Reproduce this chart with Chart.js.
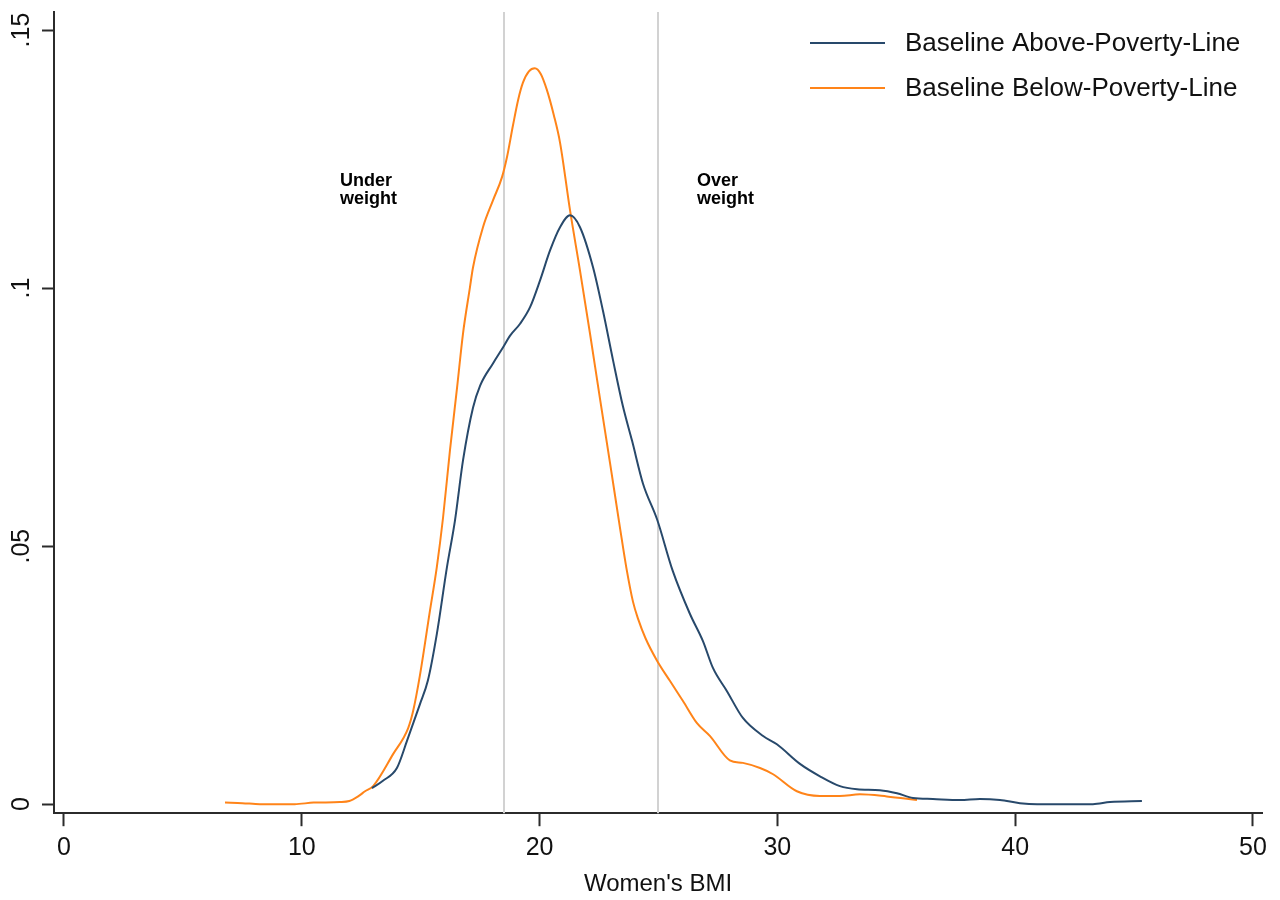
<!DOCTYPE html>
<html>
<head>
<meta charset="utf-8">
<title>Women's BMI density</title>
<script src="https://cdn.jsdelivr.net/npm/chart.js@4.4.0/dist/chart.umd.min.js"></script>
<style>
    html, body { margin: 0; padding: 0; background: #fff; }
    #wrap { width: 1280px; height: 900px; position: relative; }
</style>
</head>
<body>
<div id="wrap"><canvas id="bmiChart" width="1280" height="900"></canvas></div>
<script>
// ===== DATA =====
const xTicks = [0, 10, 20, 30, 40, 50];
const yTicks = [0, 0.05, 0.1, 0.15];
const yTickLabels = ["0", ".05", ".1", ".15"];
const cutoffs = [18.5, 25];

const seriesNames = ["Baseline Above-Poverty-Line", "Baseline Below-Poverty-Line"];

const aboveX = [12.95, 13.4, 14.0, 14.42, 14.97, 15.3, 15.68, 16.1, 16.44, 16.78, 17.2, 17.5,
    18.04, 18.46, 18.76, 19.18, 19.6, 20.02, 20.44, 20.86, 21.28, 21.7, 22.25, 22.67, 23.09,
    23.5, 23.89, 24.35, 24.94, 25.6, 26.32, 26.87, 27.29, 27.88, 28.55, 29.4, 29.98, 30.95,
    31.79, 32.63, 33.35, 34.31, 35.03, 35.7, 36.54, 37.68, 38.52, 39.36, 40.2, 40.92, 43.27,
    43.99, 45.33];
const aboveY = [0.0031, 0.0045, 0.007, 0.0122, 0.0194, 0.0239, 0.033, 0.0458, 0.0549, 0.0666,
    0.0768, 0.0811, 0.0854, 0.0885, 0.0908, 0.0931, 0.0963, 0.1015, 0.1073, 0.1118, 0.1141,
    0.1118, 0.104, 0.0955, 0.086, 0.0772, 0.0704, 0.0621, 0.0552, 0.0452, 0.0369, 0.0316,
    0.0264, 0.0219, 0.0167, 0.0132, 0.0116, 0.0078, 0.0054, 0.0035, 0.0029, 0.0027, 0.0021,
    0.0012, 0.001, 0.0008, 0.001, 0.0008, 0.0002, 0, 0, 0.0004, 0.0006];

const belowX = [6.77, 7.5, 8.24, 9.7, 10.5, 11.6, 12.0, 12.4, 12.66, 13.0, 13.84, 14.47, 14.68,
    14.97, 15.39, 15.68, 15.94, 16.23, 16.53, 16.78, 17.07, 17.2, 17.62, 18.04, 18.42, 18.63,
    18.88, 19.1, 19.3, 19.55, 19.8, 20.05, 20.3, 20.6, 20.86, 21.28, 21.7, 22.12, 22.54, 22.96,
    23.38, 23.65, 23.93, 24.15, 24.45, 24.94, 25.48, 26.03, 26.62, 27.17, 28.0, 28.55, 29.27,
    29.82, 30.82, 31.79, 32.63, 33.47, 34.6, 35.87];
const belowY = [0.0003, 0.0002, 0, 0, 0.0003, 0.0004, 0.0006, 0.0016, 0.0025, 0.0035, 0.0097,
    0.0147, 0.018, 0.025, 0.0375, 0.046, 0.0555, 0.0685, 0.0807, 0.0912, 0.1001, 0.104, 0.1118,
    0.117, 0.1215, 0.1254, 0.1315, 0.1365, 0.1398, 0.142, 0.1426, 0.1415, 0.1385, 0.1335, 0.1282,
    0.1151, 0.1034, 0.0912, 0.0786, 0.0662, 0.0536, 0.0458, 0.0392, 0.0358, 0.0322, 0.0278,
    0.0239, 0.02, 0.0157, 0.0132, 0.0085, 0.008, 0.007, 0.0058, 0.0025, 0.0016, 0.0016, 0.0019,
    0.0015, 0.0008];

const FONT = "'Liberation Sans', Arial, sans-serif";
const BLUE = "#28496b";
const ORANGE = "#ff8419";
const AXIS = "#2b2b2b";

// ===== PLUGINS =====
const cutoffLines = {
    id: "cutoffLines",
    beforeDatasetsDraw(chart) {
        const { ctx, chartArea, scales } = chart;
        ctx.save();
        ctx.strokeStyle = "#d2d2d2";
        ctx.lineWidth = 2;
        cutoffs.forEach((c) => {
            const px = Math.round(scales.x.getPixelForValue(c));
            ctx.beginPath();
            ctx.moveTo(px, chartArea.top);
            ctx.lineTo(px, chartArea.bottom);
            ctx.stroke();
        });
        ctx.restore();
    },
};

const extras = {
    id: "extras",
    afterDraw(chart) {
        const { ctx, scales } = chart;
        ctx.save();

        // rotated y tick labels
        ctx.fillStyle = "#111";
        ctx.font = "25px " + FONT;
        ctx.textAlign = "center";
        ctx.textBaseline = "middle";
        yTicks.forEach((v, i) => {
            const py = scales.y.getPixelForValue(v);
            ctx.save();
            ctx.translate(22, py);
            ctx.rotate(-Math.PI / 2);
            ctx.fillText(yTickLabels[i], 0, 0);
            ctx.restore();
        });

        // zone labels
        ctx.font = "bold 18px " + FONT;
        ctx.textAlign = "left";
        ctx.textBaseline = "alphabetic";
        ctx.fillStyle = "#000";
        ctx.fillText("Under", 340, 186);
        ctx.fillText("weight", 340, 204);
        ctx.fillText("Over", 697, 186);
        ctx.fillText("weight", 697, 204);

        // legend
        const colors = [BLUE, ORANGE];
        const rows = [43, 88];
        ctx.font = "26px " + FONT;
        ctx.textBaseline = "middle";
        seriesNames.forEach((name, i) => {
            ctx.strokeStyle = colors[i];
            ctx.lineWidth = 2;
            ctx.beginPath();
            ctx.moveTo(810, rows[i]);
            ctx.lineTo(885, rows[i]);
            ctx.stroke();
            ctx.fillStyle = "#111";
            ctx.fillText(name, 905, rows[i] + 1);
        });
        ctx.restore();
    },
};

// ===== CHART =====
function toPoints(xs, ys) {
    return xs.map((x, i) => ({ x: x, y: ys[i] }));
}

new Chart(document.getElementById("bmiChart"), {
    type: "line",
    data: {
        datasets: [
            {
                label: seriesNames[0],
                data: toPoints(aboveX, aboveY),
                borderColor: BLUE,
                borderWidth: 2,
                pointRadius: 0,
                cubicInterpolationMode: "monotone",
                fill: false,
            },
            {
                label: seriesNames[1],
                data: toPoints(belowX, belowY),
                borderColor: ORANGE,
                borderWidth: 2,
                pointRadius: 0,
                cubicInterpolationMode: "monotone",
                fill: false,
            },
        ],
    },
    options: {
        responsive: false,
        animation: false,
        devicePixelRatio: 1,
        layout: {
            padding: { left: 42, right: 18, top: 12, bottom: 0 },
        },
        plugins: {
            legend: { display: false },
            tooltip: { enabled: false },
        },
        scales: {
            x: {
                type: "linear",
                min: -0.42,
                max: 50.38,
                afterBuildTicks: (scale) => {
                    scale.ticks = xTicks.map((v) => ({ value: v }));
                },
                grid: {
                    drawOnChartArea: false,
                    drawTicks: true,
                    tickLength: 13,
                    tickWidth: 2,
                    tickColor: AXIS,
                },
                border: { display: true, color: AXIS, width: 2 },
                ticks: {
                    color: "#111",
                    font: { family: FONT, size: 25 },
                    padding: 7,
                    maxRotation: 0,
                    callback: (v) => String(v),
                },
                title: {
                    display: true,
                    text: "Women's BMI",
                    color: "#111",
                    font: { family: FONT, size: 24 },
                    padding: { top: 0, bottom: 1 },
                },
            },
            y: {
                type: "linear",
                min: -0.00175,
                max: 0.1535,
                afterBuildTicks: (scale) => {
                    scale.ticks = yTicks.map((v) => ({ value: v }));
                },
                grid: {
                    drawOnChartArea: false,
                    drawTicks: true,
                    tickLength: 12,
                    tickWidth: 2,
                    tickColor: AXIS,
                },
                border: { display: true, color: AXIS, width: 2 },
                ticks: { display: false },
            },
        },
    },
    plugins: [cutoffLines, extras],
});
</script>
</body>
</html>
